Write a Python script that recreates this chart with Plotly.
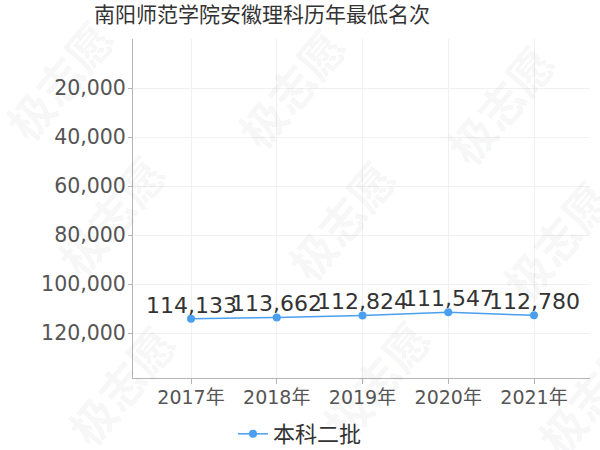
import plotly.graph_objects as go

years = ["2017年", "2018年", "2019年", "2020年", "2021年"]
ranks = [114133, 113662, 112824, 111547, 112780]
series_name = "本科二批"
title_text = "南阳师范学院安徽理科历年最低名次"
y_ticks = [20000, 40000, 60000, 80000, 100000, 120000]
watermark = "极志愿"

W, H = 600, 450
L, R, T, B = 133, 10, 39, 72
pw, ph = W - L - R, H - T - B

FONT = "DejaVu Sans, Noto Sans CJK SC, sans-serif"
line_color = "#4a9ff0"

fig = go.Figure()
fig.add_trace(go.Scatter(
    x=years, y=ranks, name=series_name,
    mode="lines+markers",
    line=dict(color=line_color, width=1.5),
    marker=dict(color=line_color, size=8),
    cliponaxis=False,
))

for yr, v in zip(years, ranks):
    fig.add_annotation(
        x=yr, y=v, xref="x", yref="y", text=f"{v:,}", showarrow=False,
        yanchor="bottom", xanchor="center", yshift=-1,
        font=dict(family=FONT, size=22, color="#333333"),
    )

# watermark positions (pixels)
wm_pos = [(58, 80), (290, 88), (500, 105), (110, 215), (340, 220), (555, 240),
          (120, 385), (375, 380), (590, 395)]
for px, py in wm_pos:
    fig.add_annotation(
        x=(px - L) / pw, y=(H - B - py) / ph, xref="paper", yref="paper",
        xanchor="center", yanchor="middle",
        text="<b>" + watermark + "</b>", showarrow=False, textangle=-50,
        font=dict(family="Noto Sans CJK SC", size=45, color="rgba(0,0,0,0.055)"),
    )

fig.update_layout(
    width=W, height=H,
    margin=dict(l=L, r=R, t=T, b=B, autoexpand=False),
    paper_bgcolor="white", plot_bgcolor="white",
    font=dict(family=FONT, size=20, color="#555555"),
    title=dict(text=title_text, x=262 / W, xanchor="center", xref="container",
               y=1 - 15 / H, yanchor="middle", yref="container",
               font=dict(family=FONT, size=21, color="#333333")),
    showlegend=True,
    legend=dict(orientation="h", x=0.5, xanchor="center", xref="container",
                y=1 - 434 / H, yanchor="middle", yref="container", itemwidth=30,
                font=dict(size=22, color="#333333")),
    xaxis=dict(type="category", range=[-(191 - L) / 85.75, (W - R - 191) / 85.75],
               showgrid=True, gridcolor="#f0f0f0", showline=True, linecolor="#b5b5b5",
               ticks="outside", ticklen=5, tickcolor="#b5b5b5", zeroline=False,
               ticklabelstandoff=-3,
               tickfont=dict(size=19, color="#555555")),
    yaxis=dict(range=[(H - B - T) / 49 * 20000, 0], tickvals=y_ticks,
               tickformat=",d", showgrid=True, gridcolor="#f0f0f0",
               showline=True, linecolor="#b5b5b5", ticks="outside", ticklen=4,
               tickcolor="#b5b5b5", zeroline=False, ticklabelstandoff=-2,
               tickfont=dict(size=20.5, color="#555555")),
)

fig.write_html("out.html", config={"displayModeBar": False},
               post_script="document.body.style.margin='0';")
